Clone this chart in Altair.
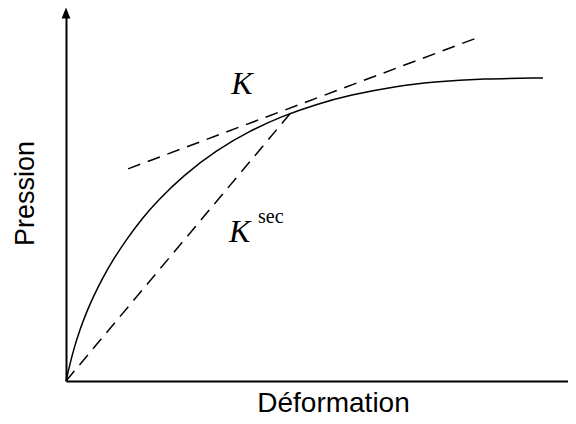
import altair as alt
import pandas as pd

# Stress-strain curve (normalized units)
curve_x = [0.0, 0.0147, 0.0294, 0.0440, 0.0587, 0.0776, 0.0985, 0.1279, 0.1614, 0.1908,
           0.2453, 0.3166, 0.3857, 0.4549, 0.5241, 0.5954, 0.6918, 0.7694, 0.8742, 1.0]
curve_y = [0.0, 0.099, 0.171, 0.231, 0.283, 0.342, 0.400, 0.470, 0.540, 0.593,
           0.678, 0.763, 0.826, 0.875, 0.913, 0.944, 0.973, 0.987, 0.998, 1.0]

# Tangent (K) and secant (K sec) lines
tangent_x = [0.130, 0.866]
tangent_y = [0.700, 1.135]
secant_x = [0.0, 0.476]
secant_y = [0.0, 0.894]

# Labels
label_text = ["K", "K"]
label_x = [0.369, 0.364]
label_y = [0.947, 0.459]
sup_text = ["sec"]
sup_x = [0.4025]
sup_y = [0.521]

X_MAX = 1.0524
Y_MAX = 1.2145

curve_df = pd.DataFrame({"x": curve_x, "y": curve_y})
dash_df = pd.DataFrame({
    "x": tangent_x + secant_x,
    "y": tangent_y + secant_y,
    "line": ["tangent"] * 2 + ["secant"] * 2,
})
lab_df = pd.DataFrame({"x": label_x, "y": label_y, "t": label_text})
sup_df = pd.DataFrame({"x": sup_x, "y": sup_y, "t": sup_text})
arrow_up_df = pd.DataFrame({"x": [0.0], "y": [Y_MAX]})

xs = alt.Scale(domain=[0, X_MAX], nice=False, zero=False)
ys = alt.Scale(domain=[0, Y_MAX], nice=False, zero=False)

x_axis = alt.Axis(
    title="Déformation", labels=False, ticks=False, grid=False,
    domainColor="black", domainWidth=2,
    titleFont="Liberation Sans", titleFontSize=28, titleFontWeight="normal",
    titleColor="black", titleX=267, titleY=30, titleBaseline="alphabetic",
    titleAlign="center",
)
y_axis = alt.Axis(
    title="Pression", labels=False, ticks=False, grid=False,
    domainColor="black", domainWidth=2,
    titleFont="Liberation Sans", titleFontSize=27, titleFontWeight="normal",
    titleColor="black", titleX=-33, titleY=180, titleBaseline="alphabetic",
    titleAlign="center", titleAngle=270,
)

base_curve = alt.Chart(curve_df).mark_line(
    color="black", strokeWidth=1.5, interpolate="basis"
).encode(
    x=alt.X("x:Q", scale=xs, axis=x_axis),
    y=alt.Y("y:Q", scale=ys, axis=y_axis),
)

dashes = alt.Chart(dash_df).mark_line(
    color="black", strokeWidth=1.5, strokeDash=[13, 8]
).encode(
    x=alt.X("x:Q", scale=xs),
    y=alt.Y("y:Q", scale=ys),
    detail="line:N",
)

labels = alt.Chart(lab_df).mark_text(
    font="Liberation Serif", fontSize=32, fontStyle="italic", color="black",
    align="center", baseline="alphabetic"
).encode(
    x=alt.X("x:Q", scale=xs), y=alt.Y("y:Q", scale=ys), text="t:N"
)

sup = alt.Chart(sup_df).mark_text(
    font="Liberation Serif", fontSize=20, color="black",
    align="left", baseline="alphabetic"
).encode(
    x=alt.X("x:Q", scale=xs), y=alt.Y("y:Q", scale=ys), text="t:N"
)

arrow_up = alt.Chart(arrow_up_df).mark_point(
    shape="M0,-1L-0.8,1L0.8,1Z", size=121, filled=True, color="black", opacity=1
).encode(x=alt.X("x:Q", scale=xs), y=alt.Y("y:Q", scale=ys))

chart = alt.layer(base_curve, dashes, labels, sup, arrow_up).properties(
    width=502, height=368,
    padding={"left": 58, "top": 5, "right": 0, "bottom": 35},
    autosize=alt.AutoSizeParams(type="none"),
    background="white",
).configure_view(stroke=None)

chart.save("out.html", embed_options={"renderer": "svg", "actions": False})
